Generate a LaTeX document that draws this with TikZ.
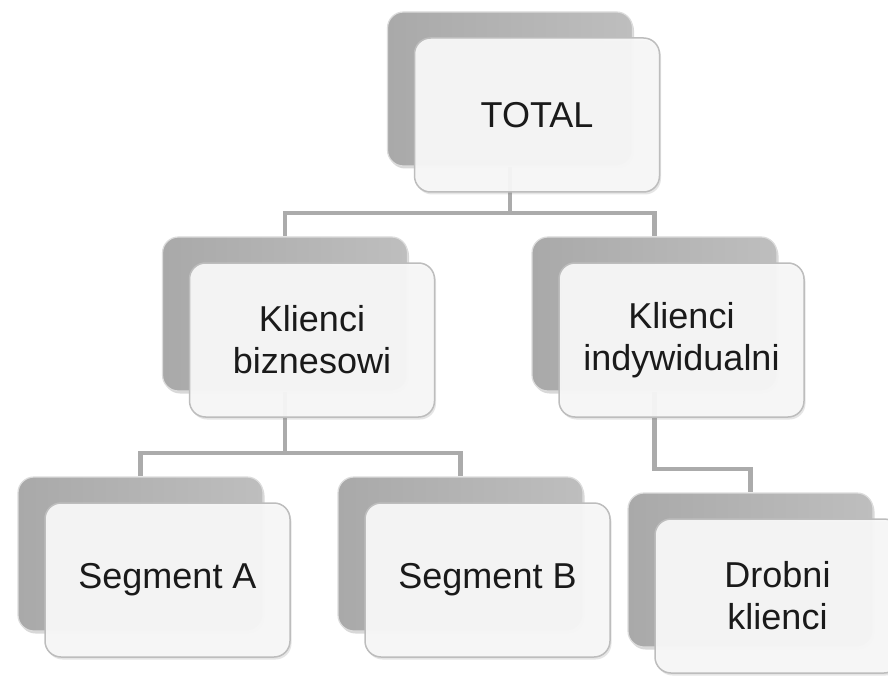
\documentclass[tikz,border=0pt]{standalone}
\usepackage{fontspec}
\setmainfont{Liberation Sans}
\usetikzlibrary{shadows,backgrounds}

\definecolor{backL}{HTML}{A9A9A9}
\definecolor{backR}{HTML}{BEBEBE}
\definecolor{backRim}{HTML}{DCDCDC}
\definecolor{frontFill}{HTML}{F8F8F8}
\definecolor{frontRim}{HTML}{BDBDBD}
\definecolor{connC}{HTML}{ABABAB}
\definecolor{textC}{HTML}{1A1A1A}

\tikzset{
  cardbase/.style={rectangle, rounded corners=16pt, minimum width=245pt,
    minimum height=154pt, inner sep=0pt},
  backbox/.style={cardbase, left color=backL, right color=backR,
    draw=backRim, line width=1.2pt,
    drop shadow={shadow xshift=1.5pt, shadow yshift=-2.5pt, opacity=0.3}},
  frontbox/.style={cardbase, fill=frontFill, fill opacity=0.94, text opacity=1,
    draw=frontRim, line width=1.5pt, align=center, text=textC,
    font=\fontsize{36}{42}\selectfont,
    drop shadow={shadow xshift=1.5pt, shadow yshift=-2.5pt, opacity=0.2}},
  conn/.style={draw=connC, line width=4.5pt}
}

\begin{document}
\begin{tikzpicture}[x=1pt,y=-1pt]
\useasboundingbox (0,0) rectangle (888,676);

% back cards
\node[backbox] (totalb) at (510,89) {};
\node[backbox] (kbizb) at (285,314) {};
\node[backbox] (kindb) at (654.5,314) {};
\node[backbox] (segab) at (140.5,554) {};
\node[backbox] (segbb) at (460.5,554) {};
\node[backbox] (drobb) at (750.5,570) {};

% front cards with labels
\node[frontbox] (total) at (537,115) {TOTAL};
\node[frontbox] (kbiz) at (312,340) {Klienci\\biznesowi};
\node[frontbox] (kind) at (681.5,340) {Klienci\\indywidualni};
\node[frontbox] (sega) at (167.5,580) {Segment A};
\node[frontbox] (segb) at (487.5,580) {Segment B};
\node[frontbox] (drob) at (777.5,596) {Drobni\\klienci};

% junction points of the tree connectors
\coordinate (j1) at (510,213);
\coordinate (j2) at (285,453);
\coordinate (j3) at (654.5,469);

\begin{scope}[on background layer]
  \fill[white] (0,0) rectangle (888,676);
  \draw[conn] (totalb.south) -- (j1) -| (kbizb.north);
  \draw[conn] (j1) -| (kindb.north);
  \draw[conn] (kbizb.south) -- (j2) -| (segab.north);
  \draw[conn] (j2) -| (segbb.north);
  \draw[conn] (kindb.south) -- (j3) -| (drobb.north);
\end{scope}
\end{tikzpicture}
\end{document}
